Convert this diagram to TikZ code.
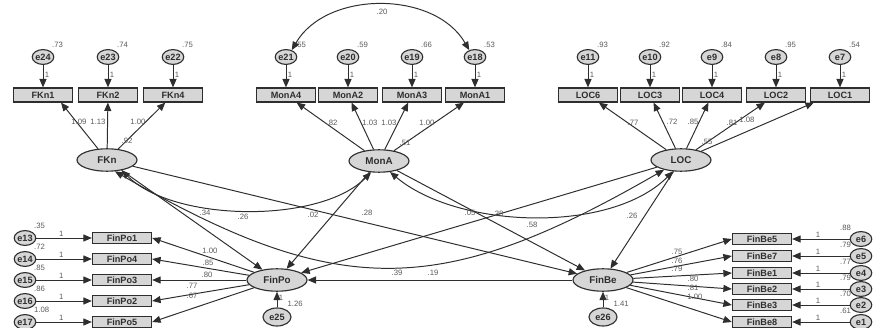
\documentclass[tikz,border=0pt]{standalone}
\usepackage{fontspec}
\setmainfont{Liberation Sans}
\usepackage{xcolor}
\definecolor{semgray}{HTML}{D6D6D6}
\definecolor{inkgray}{HTML}{2E2E2E}
\definecolor{numgray}{HTML}{5A5A5A}
\usepackage{tikz}
\usetikzlibrary{positioning,arrows.meta,shapes.geometric,calc}

\begin{document}
\begin{tikzpicture}[x=0.025cm, y=-0.025cm,
      ind/.style={draw=inkgray, line width=0.8pt, fill=semgray, minimum width=1.48cm, minimum height=0.35cm,
                  inner sep=0pt, font=\fontsize{6.5}{7}\selectfont\bfseries, text=inkgray},
      indb/.style={ind, minimum height=0.29cm},
      err/.style={ellipse, draw=inkgray, line width=0.8pt, fill=semgray, minimum width=0.54cm, minimum height=0.37cm,
                  inner sep=0pt, font=\fontsize{6.5}{7}\selectfont\bfseries, text=inkgray},
      lat/.style={ellipse, draw=inkgray, line width=0.8pt, fill=semgray, minimum width=1.5cm, minimum height=0.56cm,
                  inner sep=0pt, font=\fontsize{7}{8}\selectfont\bfseries, text=inkgray},
      lab/.style={font=\fontsize{5.5}{6}\selectfont, text=numgray, inner sep=1pt},
      vr/.style={label={[lab, label distance=1pt]45:#1}},
      vl/.style={label={[lab, label distance=1pt]140:#1}},
      arr/.style={-{Triangle[length=6pt, width=5pt]}, line width=0.7pt, inkgray},
      cov/.style={{Triangle[length=6pt, width=5pt]}-{Triangle[length=6pt, width=5pt]}, line width=0.7pt, inkgray}]
    \useasboundingbox (0,0) rectangle (884,328);

    % top errors and indicators
    \node[err, vr=.73] (e24) at (43,57)  {e24};
    \node[err, vr=.74] (e23) at (108,57) {e23};
    \node[err, vr=.75] (e22) at (173,57) {e22};
    \node[err, vr=.55] (e21) at (286,57) {e21};
    \node[err, vr=.59] (e20) at (348,57) {e20};
    \node[err, vr=.66] (e19) at (412,57) {e19};
    \node[err, vr=.53] (e18) at (475,57) {e18};
    \node[err, vr=.93] (e11) at (588,57) {e11};
    \node[err, vr=.92] (e10) at (650,57) {e10};
    \node[err, vr=.84] (e9)  at (712,57) {e9};
    \node[err, vr=.95] (e8)  at (776,57) {e8};
    \node[err, vr=.54] (e7)  at (840,57) {e7};

    \node[ind] (FKn1)  at (43,95)  {FKn1};
    \node[ind] (FKn2)  at (108,95) {FKn2};
    \node[ind] (FKn4)  at (173,95) {FKn4};
    \node[ind] (MonA4) at (286,95) {MonA4};
    \node[ind] (MonA2) at (348,95) {MonA2};
    \node[ind] (MonA3) at (412,95) {MonA3};
    \node[ind] (MonA1) at (475,95) {MonA1};
    \node[ind] (LOC6)  at (588,95) {LOC6};
    \node[ind] (LOC3)  at (650,95) {LOC3};
    \node[ind] (LOC4)  at (712,95) {LOC4};
    \node[ind] (LOC2)  at (776,95) {LOC2};
    \node[ind] (LOC1)  at (840,95) {LOC1};

    % latent variables
    \node[lat] (FKn)   at (107,160) {FKn};
    \node[lat] (MonA)  at (379,161) {MonA};
    \node[lat] (LOC)   at (681,160) {LOC};
    \node[lat] (FinPo) at (277,280) {FinPo};
    \node[lat] (FinBe) at (603,280) {FinBe};
    \node[err, minimum width=0.7cm, minimum height=0.45cm, vr=1.26] (e25) at (277,317) {e25};
    \node[err, minimum width=0.7cm, minimum height=0.45cm, vr=1.41] (e26) at (603,317) {e26};

    % bottom indicators
    \node[indb] (FinPo1) at (122,238) {FinPo1};
    \node[indb] (FinPo4) at (122,259) {FinPo4};
    \node[indb] (FinPo3) at (122,280) {FinPo3};
    \node[indb] (FinPo2) at (122,301) {FinPo2};
    \node[indb] (FinPo5) at (122,322) {FinPo5};
    \node[err, vr=.35]  (e13) at (25,238) {e13};
    \node[err, vr=.72]  (e14) at (25,259) {e14};
    \node[err, vr=.85]  (e15) at (25,280) {e15};
    \node[err, vr=.86]  (e16) at (25,301) {e16};
    \node[err, vr=1.08] (e17) at (25,322) {e17};

    \node[indb] (FinBe5) at (762,239) {FinBe5};
    \node[indb] (FinBe7) at (762,256) {FinBe7};
    \node[indb] (FinBe1) at (762,273) {FinBe1};
    \node[indb] (FinBe2) at (762,289) {FinBe2};
    \node[indb] (FinBe3) at (762,305) {FinBe3};
    \node[indb] (FinBe8) at (762,322) {FinBe8};
    \node[err, vl=.88] (e6) at (861,239) {e6};
    \node[err, vl=.79] (e5) at (861,256) {e5};
    \node[err, vl=.77] (e4) at (861,273) {e4};
    \node[err, vl=.79] (e3) at (861,289) {e3};
    \node[err, vl=.70] (e2) at (861,305) {e2};
    \node[err, vl=.61] (e1) at (861,322) {e1};

    % error paths
    \draw[arr] (e24) -- node[lab, right, pos=.45] {1} (FKn1);
    \draw[arr] (e23) -- node[lab, right, pos=.45] {1} (FKn2);
    \draw[arr] (e22) -- node[lab, right, pos=.45] {1} (FKn4);
    \draw[arr] (e21) -- node[lab, right, pos=.45] {1} (MonA4);
    \draw[arr] (e20) -- node[lab, right, pos=.45] {1} (MonA2);
    \draw[arr] (e19) -- node[lab, right, pos=.45] {1} (MonA3);
    \draw[arr] (e18) -- node[lab, right, pos=.45] {1} (MonA1);
    \draw[arr] (e11) -- node[lab, right, pos=.45] {1} (LOC6);
    \draw[arr] (e10) -- node[lab, right, pos=.45] {1} (LOC3);
    \draw[arr] (e9)  -- node[lab, right, pos=.45] {1} (LOC4);
    \draw[arr] (e8)  -- node[lab, right, pos=.45] {1} (LOC2);
    \draw[arr] (e7)  -- node[lab, right, pos=.45] {1} (LOC1);
    \draw[arr] (e13) -- node[lab, above, pos=.45] {1} (FinPo1);
    \draw[arr] (e14) -- node[lab, above, pos=.45] {1} (FinPo4);
    \draw[arr] (e15) -- node[lab, above, pos=.45] {1} (FinPo3);
    \draw[arr] (e16) -- node[lab, above, pos=.45] {1} (FinPo2);
    \draw[arr] (e17) -- node[lab, above, pos=.45] {1} (FinPo5);
    \draw[arr] (e6) -- node[lab, above, pos=.55] {1} (FinBe5);
    \draw[arr] (e5) -- node[lab, above, pos=.55] {1} (FinBe7);
    \draw[arr] (e4) -- node[lab, above, pos=.55] {1} (FinBe1);
    \draw[arr] (e3) -- node[lab, above, pos=.55] {1} (FinBe2);
    \draw[arr] (e2) -- node[lab, above, pos=.55] {1} (FinBe3);
    \draw[arr] (e1) -- node[lab, above, pos=.55] {1} (FinBe8);
    \draw[arr] (e25) -- node[lab, right, pos=.6] {1} (FinPo);
    \draw[arr] (e26) -- node[lab, right, pos=.6] {1} (FinBe);

    % loadings
    \draw[arr] (FKn) -- ([xshift=0.45cm]FKn1.south);
    \draw[arr] (FKn) -- (FKn2);
    \draw[arr] (FKn) -- (FKn4);
    \draw[arr] (MonA) -- (MonA4);
    \draw[arr] (MonA) -- (MonA2);
    \draw[arr] (MonA) -- (MonA3);
    \draw[arr] (MonA) -- (MonA1);
    \draw[arr] (LOC) -- (LOC6);
    \draw[arr] (LOC) -- (LOC3);
    \draw[arr] (LOC) -- (LOC4);
    \draw[arr] (LOC) -- (LOC2);
    \draw[arr] (LOC) -- ([xshift=0.1cm]LOC1.south west);
    \draw[arr] (FinPo) -- (FinPo1.east);
    \draw[arr] (FinPo) -- (FinPo4.east);
    \draw[arr] (FinPo) -- (FinPo3.east);
    \draw[arr] (FinPo) -- (FinPo2.east);
    \draw[arr] (FinPo) -- (FinPo5.east);
    \draw[arr] (FinBe) -- (FinBe5.west);
    \draw[arr] (FinBe) -- (FinBe7.west);
    \draw[arr] (FinBe) -- (FinBe1.west);
    \draw[arr] (FinBe) -- (FinBe2.west);
    \draw[arr] (FinBe) -- (FinBe3.west);
    \draw[arr] (FinBe) -- (FinBe8.west);

    % structural paths and covariances
    \draw[arr] (FKn) -- (FinPo);
    \draw[arr] (FKn) -- (FinBe);
    \draw[arr] (MonA) -- (FinPo);
    \draw[arr] (MonA) -- (FinBe);
    \draw[arr] (LOC) -- (FinPo);
    \draw[arr] (LOC) -- (FinBe);
    \draw[arr] (FinBe) -- (FinPo);
    \draw[cov] (FKn.-35) to[out=-45, in=-135, looseness=0.75] (MonA.-125);
    \draw[cov] (FKn.-55) to[out=-30, in=-150, looseness=1.2] (LOC.-150);
    \draw[cov] (MonA.-45) to[out=-40, in=-135, looseness=0.8] (LOC.-125);
    \draw[cov] (e21.50) to[out=60, in=120] (e18.130);

    % estimates
    \node[lab] (wFKn1) at (79,122)  {1.09};
    \node[lab] (wFKn2) at (98,122)  {1.13};
    \node[lab] (wFKn4) at (138,122) {1.00};
    \node[lab] (rFKn)  at (127,141) {.92};
    \node[lab] (wMonA4) at (332,123) {.82};
    \node[lab] (wMonA2) at (370,123) {1.03};
    \node[lab] (wMonA3) at (389,123) {1.03};
    \node[lab] (wMonA1) at (427,123) {1.00};
    \node[lab] (rMonA)  at (405,143) {.51};
    \node[lab] (wLOC6) at (633,123) {.77};
    \node[lab] (wLOC3) at (672,122) {.72};
    \node[lab] (wLOC4) at (693,122) {.85};
    \node[lab] (wLOC2) at (732,123) {.81};
    \node[lab] (wLOC1) at (747,120) {1.08};
    \node[lab] (rLOC)  at (707,142) {.55};
    \node[lab] (wFinPo1) at (210,251) {1.00};
    \node[lab] (wFinPo4) at (208,263) {.85};
    \node[lab] (wFinPo3) at (207,275) {.80};
    \node[lab] (wFinPo2) at (192,286) {.77};
    \node[lab] (wFinPo5) at (192,296) {.67};
    \node[lab] (wFinBe5) at (677,252) {.75};
    \node[lab] (wFinBe7) at (677,261) {.76};
    \node[lab] (wFinBe1) at (677,269) {.79};
    \node[lab] (wFinBe2) at (693,279) {.80};
    \node[lab] (wFinBe3) at (693,288) {.81};
    \node[lab] (wFinBe8) at (695,297) {1.00};
    \node[lab] (bFKnPo)  at (205,213) {.34};
    \node[lab] (cFKnMon) at (243,217) {.26};
    \node[lab] (bMonPo)  at (313,215) {.02};
    \node[lab] (bFKnBe)  at (367,213) {.28};
    \node[lab] (bLOCPo)  at (470,213) {.05};
    \node[lab] (bMonBe)  at (498,214) {.38};
    \node[lab] (cMonLOC) at (532,225) {.58};
    \node[lab] (bLOCBe)  at (632,216) {.26};
    \node[lab] (bBePo)   at (397,273) {.39};
    \node[lab] (cFKnLOC) at (433,273) {.19};
    \node[lab] (cErr)    at (382,12)  {.20};
  \end{tikzpicture}
\end{document}
